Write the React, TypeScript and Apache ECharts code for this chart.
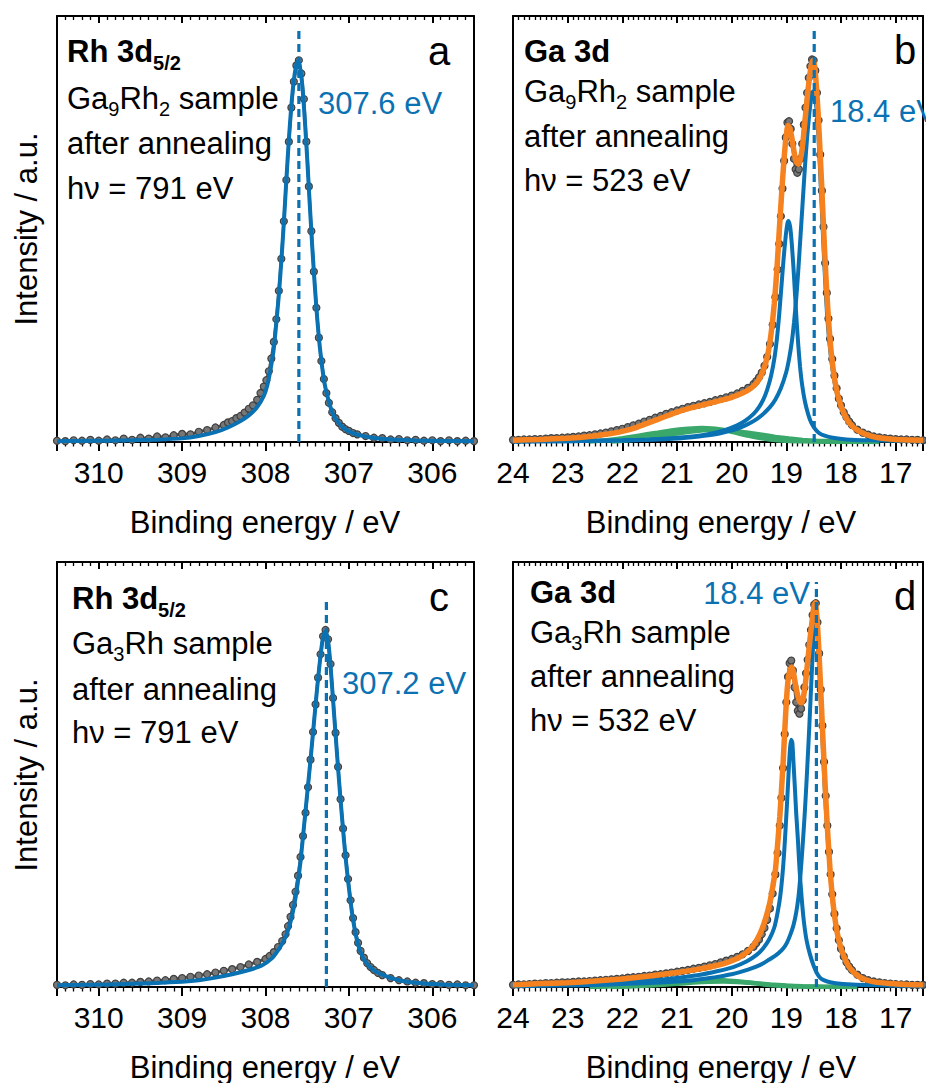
import React, { useEffect, useRef } from 'react';
import * as echarts from 'echarts';

const FONT = '"Liberation Sans", Arial, Helvetica, sans-serif';
const BLUE = '#0a71b3';
const ORANGE = '#f5821f';
const GREEN = '#3aa86a';

// x ranges (binding energy, eV)
const rhRange = [305.5, 310.5];
const gaRange = [16.5, 24];

// ---------- panel a : Rh 3d5/2, Ga9Rh2 ----------
const rhA_data: number[][] = [
  [310.5,0.3],[310.4,0.2],[310.3,0.4],[310.2,0.3],[310.1,0.5],[310.0,0.3],[309.9,0.6],[309.8,0.4],[309.7,0.8],[309.6,0.5],
  [309.5,1.0],[309.4,0.8],[309.3,1.3],[309.2,1.1],[309.1,1.6],[309.0,1.9],[308.9,1.8],[308.8,2.4],[308.7,2.8],[308.6,3.4],
  [308.5,4.0],[308.45,4.6],[308.4,4.9],[308.35,5.6],[308.3,6.1],[308.25,6.9],[308.2,7.8],[308.15,8.6],[308.1,9.9],[308.06,11.5],
  [308.02,13.0],[307.99,14.5],[307.96,16.6],[307.93,19.6],[307.9,23.5],[307.87,28.8],[307.84,35.5],[307.81,43.0],[307.78,51.8],
  [307.75,61.5],[307.72,70.5],[307.69,78.5],[307.66,84.6],[307.63,88.4],[307.6,89.6],[307.57,86.5],[307.54,80.5],[307.51,70.5],
  [307.48,60.0],[307.45,49.5],[307.42,40.0],[307.39,31.5],[307.36,24.5],[307.33,19.0],[307.3,14.8],[307.27,11.5],[307.24,9.2],
  [307.2,7.0],[307.16,5.6],[307.12,4.5],[307.08,3.6],[307.04,3.0],[307.0,2.6],[306.95,2.1],[306.9,1.8],[306.8,1.4],[306.7,1.0],
  [306.6,0.9],[306.5,0.6],[306.4,0.7],[306.3,0.4],[306.2,0.5],[306.1,0.3],[306.0,0.4],[305.9,0.2],[305.8,0.4],[305.7,0.2],
  [305.6,0.3],[305.5,0.2]
];
const rhA_fit: number[][] = [
  [310.5,0.2],[310.2,0.25],[309.9,0.3],[309.6,0.4],[309.3,0.55],[309.0,0.85],[308.8,1.4],[308.6,2.3],[308.45,3.4],[308.3,4.9],
  [308.2,6.2],[308.1,8.2],[308.02,10.8],[307.98,13.2],[307.94,17.0],[307.9,22.0],[307.87,28.0],[307.84,34.5],[307.81,42.5],
  [307.78,51.5],[307.75,61.5],[307.72,71],[307.69,79],[307.66,85],[307.63,88.5],[307.61,89.4],[307.59,88.5],[307.56,84],
  [307.53,76],[307.5,66.5],[307.47,56],[307.44,46],[307.41,37],[307.38,29],[307.35,22.5],[307.32,17.5],[307.29,13.5],
  [307.25,10.2],[307.2,7.0],[307.14,4.9],[307.05,3.1],[306.95,2.1],[306.85,1.5],[306.7,0.95],[306.5,0.6],[306.2,0.35],
  [305.9,0.25],[305.5,0.2]
];

// ---------- panel c : Rh 3d5/2, Ga3Rh ----------
const rhC_data: number[][] = [
  [310.5,0.5],[310.4,0.4],[310.3,0.6],[310.2,0.5],[310.1,0.7],[310.0,0.6],[309.9,0.8],[309.8,0.8],[309.7,1.0],[309.6,1.0],
  [309.5,1.2],[309.4,1.3],[309.3,1.5],[309.2,1.6],[309.1,1.9],[309.0,2.1],[308.9,2.4],[308.8,2.7],[308.7,3.0],[308.6,3.4],
  [308.5,3.8],[308.4,4.2],[308.3,4.7],[308.2,5.3],[308.1,5.9],[308.0,6.6],[307.95,7.3],[307.9,8.2],[307.85,9.4],[307.8,10.8],
  [307.76,12.4],[307.73,14.3],[307.7,16.5],[307.67,19.3],[307.64,22.4],[307.61,26.2],[307.58,30.6],[307.55,35.5],[307.52,41.0],
  [307.49,47.0],[307.46,53.5],[307.43,60.0],[307.4,66.5],[307.37,72.8],[307.34,78.3],[307.31,82.5],[307.28,84.0],[307.25,81.8],
  [307.22,76.0],[307.19,68.0],[307.16,59.8],[307.13,51.8],[307.1,44.2],[307.07,37.3],[307.04,31.0],[307.01,25.4],[306.98,20.4],
  [306.95,16.2],[306.92,12.9],[306.89,10.4],[306.86,8.5],[306.82,6.9],[306.78,5.6],[306.74,4.7],[306.7,4.0],[306.65,3.3],
  [306.6,2.8],[306.5,2.1],[306.4,1.6],[306.3,1.3],[306.2,1.0],[306.1,0.9],[306.0,0.7],[305.9,0.7],[305.8,0.5],[305.7,0.6],
  [305.6,0.4],[305.5,0.4]
];
const rhC_fit: number[][] = [
  [310.5,0.4],[310.2,0.5],[309.9,0.6],[309.6,0.75],[309.3,0.95],[309.0,1.25],[308.8,1.6],[308.6,2.2],[308.4,3.0],[308.2,4.0],
  [308.05,5.0],[307.92,6.8],[307.85,8.6],[307.8,10.2],[307.75,12.2],[307.7,15.3],[307.66,18.8],[307.62,23.5],[307.58,29.5],
  [307.54,37.5],[307.5,45.5],[307.46,53.5],[307.42,62],[307.38,70.5],[307.34,78],[307.31,82.3],[307.28,83.7],[307.25,81.5],
  [307.22,75.5],[307.19,67.5],[307.16,59.5],[307.13,51.5],[307.1,44],[307.07,37],[307.04,30.5],[307.01,25],[306.98,20.0],
  [306.95,15.8],[306.91,11.6],[306.86,8.2],[306.8,5.9],[306.7,3.9],[306.55,2.5],[306.4,1.6],[306.2,1.0],[306.0,0.7],
  [305.8,0.5],[305.5,0.4]
];

// ---------- panel b : Ga 3d, Ga9Rh2 ----------
const gaB_data: number[][] = [
  [24.0,0.5],[23.9,0.5],[23.8,0.6],[23.7,0.6],[23.6,0.7],[23.5,0.7],[23.4,0.8],[23.3,0.9],[23.2,0.9],[23.1,1.0],[23.0,1.1],
  [22.9,1.2],[22.8,1.3],[22.7,1.5],[22.6,1.6],[22.5,1.8],[22.4,2.0],[22.3,2.2],[22.2,2.5],[22.1,2.8],[22.0,3.1],[21.9,3.5],
  [21.8,3.9],[21.7,4.3],[21.6,4.8],[21.5,5.2],[21.4,5.7],[21.3,6.1],[21.2,6.6],[21.1,7.0],[21.0,7.4],[20.9,7.8],[20.8,8.2],
  [20.7,8.5],[20.6,8.8],[20.5,9.1],[20.4,9.4],[20.3,9.8],[20.2,10.1],[20.1,10.5],[20.0,10.9],[19.9,11.4],[19.8,12.0],
  [19.7,12.7],[19.6,13.6],[19.55,14.3],[19.5,15.2],[19.45,16.3],[19.4,17.9],[19.35,20.0],[19.3,23.0],[19.25,27.5],[19.2,34.0],
  [19.16,40.5],[19.13,46.5],[19.1,53.0],[19.07,59.5],[19.04,66.0],[19.01,71.5],[18.98,75.0],[18.95,75.3],[18.92,73.5],
  [18.89,70.0],[18.86,66.5],[18.83,64.0],[18.8,63.2],[18.77,64.0],[18.74,66.5],[18.71,70.0],[18.68,74.5],[18.65,78.5],
  [18.62,82.0],[18.59,85.5],[18.56,88.2],[18.53,89.8],[18.5,89.6],[18.47,87.2],[18.44,82.0],[18.41,75.5],[18.38,67.5],
  [18.35,59.0],[18.32,50.5],[18.29,42.0],[18.26,35.0],[18.23,29.0],[18.2,24.2],[18.16,19.5],[18.12,15.6],[18.08,12.6],
  [18.04,10.2],[18.0,8.6],[17.95,7.0],[17.9,5.8],[17.85,4.8],[17.8,4.0],[17.7,2.9],[17.6,2.2],[17.5,1.7],[17.4,1.3],
  [17.3,1.1],[17.2,0.9],[17.1,0.8],[17.0,0.7],[16.9,0.6],[16.8,0.6],[16.7,0.5],[16.6,0.5],[16.5,0.4]
];
const gaB_env: number[][] = [
  [24,0.4],[23.5,0.6],[23.0,0.9],[22.6,1.3],[22.3,1.8],[22.0,2.5],[21.75,3.4],[21.5,4.6],[21.25,5.8],[21.0,7.0],[20.75,8.0],
  [20.5,8.8],[20.25,9.6],[20.0,10.5],[19.8,11.5],[19.65,12.6],[19.52,14.3],[19.42,16.9],[19.34,20.5],[19.28,25.3],[19.22,32.5],
  [19.17,41],[19.13,49.5],[19.09,57.5],[19.05,65],[19.01,71],[18.97,74.3],[18.94,73.8],[18.9,71.5],[18.86,68.2],[18.82,65.8],
  [18.78,65.2],[18.74,66.5],[18.7,70],[18.66,75.2],[18.62,80.5],[18.58,85.2],[18.54,88.6],[18.51,89.6],[18.48,88],[18.45,83.5],
  [18.42,77.5],[18.39,70],[18.36,62],[18.33,53.5],[18.3,45],[18.27,37.5],[18.24,31],[18.21,25.5],[18.17,20],[18.12,15],
  [18.06,11],[18.0,8.4],[17.9,5.5],[17.8,3.8],[17.7,2.8],[17.55,1.8],[17.4,1.2],[17.2,0.8],[17.0,0.6],[16.5,0.4]
];
const gaB_comp1: number[][] = [
  [24,0.1],[23,0.2],[22,0.35],[21.5,0.5],[21.0,0.8],[20.6,1.3],[20.3,1.8],[20.1,2.4],[19.9,3.1],[19.75,3.9],[19.6,4.9],
  [19.45,6.3],[19.3,8.2],[19.2,10.0],[19.1,12.6],[19.0,16.5],[18.95,19.5],[18.9,23.5],[18.86,28],[18.82,33.5],[18.78,40.5],
  [18.74,48.5],[18.7,56.5],[18.66,64.5],[18.62,71.5],[18.58,77],[18.55,80.3],[18.52,82.3],[18.49,82],[18.46,79.5],[18.43,76],
  [18.4,68.5],[18.37,60],[18.34,51.5],[18.31,43],[18.28,35.5],[18.25,29],[18.21,23],[18.16,17.5],[18.1,12.8],[18.03,9.2],
  [17.95,6.5],[17.85,4.5],[17.75,3.1],[17.6,2.0],[17.4,1.2],[17.1,0.7],[16.5,0.35]
];
const gaB_comp2: number[][] = [
  [24,0.1],[23,0.2],[22,0.4],[21.5,0.6],[21.0,1.0],[20.6,1.5],[20.3,2.2],[20.1,2.9],[19.9,3.9],[19.75,5.0],[19.6,6.6],
  [19.5,8.2],[19.42,10.0],[19.35,12.3],[19.28,15.5],[19.22,19.5],[19.17,24.5],[19.13,30],[19.09,36.5],[19.05,43],[19.01,48.5],
  [18.98,51.3],[18.96,51.9],[18.93,50.5],[18.9,46.5],[18.87,41],[18.84,34.5],[18.81,28],[18.78,22.5],[18.75,17.8],[18.71,13.3],
  [18.66,9.5],[18.6,6.5],[18.54,4.4],[18.47,3.0],[18.4,2.1],[18.3,1.5],[18.15,1.0],[17.9,0.6],[17.5,0.4],[16.5,0.2]
];
const gaB_bg1: number[][] = [
  [22.6,0.1],[22.3,0.4],[22.0,0.9],[21.7,1.5],[21.4,2.1],[21.1,2.7],[20.8,3.1],[20.55,3.3],[20.3,3.1],[20.1,2.7],[19.9,2.1],
  [19.7,1.5],[19.5,1.0],[19.3,0.6],[19.0,0.3],[18.7,0.15],[18.3,0.05],[17.8,0]
];
const gaB_bg2: number[][] = [
  [22.2,0.1],[21.9,0.4],[21.6,0.8],[21.3,1.4],[21.0,2.0],[20.7,2.5],[20.45,2.8],[20.2,2.8],[19.95,2.6],[19.7,2.2],[19.45,1.7],
  [19.2,1.2],[18.95,0.8],[18.7,0.5],[18.45,0.3],[18.1,0.15],[17.7,0.05],[17.3,0]
];

// ---------- panel d : Ga 3d, Ga3Rh ----------
const gaD_data: number[][] = [
  [24.0,0.5],[23.9,0.6],[23.8,0.6],[23.7,0.7],[23.6,0.8],[23.5,0.8],[23.4,0.9],[23.3,0.9],[23.2,1.0],[23.1,1.1],[23.0,1.1],
  [22.9,1.2],[22.8,1.3],[22.7,1.3],[22.6,1.4],[22.5,1.5],[22.4,1.6],[22.3,1.7],[22.2,1.8],[22.1,1.9],[22.0,2.0],[21.9,2.2],
  [21.8,2.3],[21.7,2.4],[21.6,2.6],[21.5,2.7],[21.4,2.9],[21.3,3.0],[21.2,3.2],[21.1,3.4],[21.0,3.6],[20.9,3.8],[20.8,4.0],
  [20.7,4.3],[20.6,4.5],[20.5,4.8],[20.4,5.1],[20.3,5.4],[20.2,5.8],[20.1,6.2],[20.0,6.6],[19.9,7.1],[19.8,7.7],[19.7,8.5],
  [19.6,9.5],[19.55,10.3],[19.5,11.2],[19.45,12.4],[19.4,13.9],[19.35,15.8],[19.3,18.5],[19.25,22.0],[19.2,26.5],[19.16,31.5],
  [19.12,38.0],[19.09,44.5],[19.06,51.5],[19.03,59.5],[19.0,67.0],[18.97,73.0],[18.94,76.2],[18.91,76.8],[18.88,74.5],
  [18.85,70.5],[18.82,67.0],[18.79,65.0],[18.76,64.3],[18.73,65.5],[18.7,67.5],[18.67,70.5],[18.64,73.8],[18.61,77.0],
  [18.58,80.5],[18.55,84.0],[18.52,87.5],[18.49,90.0],[18.46,90.3],[18.43,85.8],[18.4,78.5],[18.37,70.0],[18.34,61.5],
  [18.31,53.0],[18.28,45.0],[18.25,38.0],[18.22,31.8],[18.19,26.5],[18.16,21.8],[18.12,17.2],[18.08,13.8],[18.04,11.0],
  [18.0,9.0],[17.95,7.2],[17.9,5.8],[17.85,4.8],[17.8,4.0],[17.7,2.9],[17.6,2.1],[17.5,1.6],[17.4,1.3],[17.3,1.1],[17.2,0.9],
  [17.1,0.8],[17.0,0.7],[16.9,0.6],[16.8,0.6],[16.7,0.5],[16.6,0.5],[16.5,0.5]
];
const gaD_env: number[][] = [
  [24,0.5],[23.5,0.8],[23.0,1.0],[22.5,1.4],[22.0,1.9],[21.5,2.6],[21.0,3.4],[20.6,4.2],[20.3,5.0],[20.1,5.7],[19.9,6.7],
  [19.75,7.9],[19.62,9.5],[19.52,11.5],[19.44,13.8],[19.37,16.5],[19.3,20],[19.25,23.5],[19.2,27.5],[19.16,33.5],[19.12,40],
  [19.09,46],[19.06,52.5],[19.03,60],[19.0,67],[18.97,72],[18.93,74.8],[18.9,75.3],[18.87,74],[18.83,71],[18.79,68.5],
  [18.75,67],[18.72,66.8],[18.69,68],[18.65,71.5],[18.61,76.5],[18.57,81.5],[18.53,86],[18.5,89.2],[18.47,90.4],[18.44,87],
  [18.41,80.5],[18.38,72.5],[18.35,64],[18.32,55.5],[18.29,47.5],[18.26,40],[18.23,33.5],[18.2,27.5],[18.16,21.5],[18.12,17],
  [18.07,12.8],[18.01,9.6],[17.94,7.0],[17.87,5.1],[17.78,3.6],[17.68,2.5],[17.55,1.7],[17.4,1.2],[17.1,0.8],[16.8,0.6],[16.5,0.5]
];
const gaD_comp1: number[][] = [
  [24,0.2],[23,0.35],[22.37,0.5],[21.8,0.8],[21.41,1.0],[21.0,1.3],[20.69,1.6],[20.4,2.1],[20.21,2.5],[20.0,3.0],[19.85,3.5],
  [19.7,4.1],[19.55,4.8],[19.42,5.6],[19.32,6.4],[19.22,7.2],[19.14,8.0],[19.05,9.2],[18.99,10.4],[18.93,12.2],[18.87,14.5],
  [18.82,17.5],[18.78,21],[18.75,25],[18.72,30],[18.69,35.5],[18.66,41.5],[18.63,48.5],[18.6,56],[18.57,64],[18.54,72.5],
  [18.51,80.5],[18.48,86.5],[18.46,87.2],[18.43,84],[18.4,76],[18.37,67],[18.34,58.5],[18.31,50],[18.28,42.5],[18.25,36.5],
  [18.22,30.5],[18.19,25.5],[18.15,20],[18.1,15],[18.05,11.2],[18.0,8.6],[17.92,6.0],[17.84,4.3],[17.75,3.0],[17.63,2.0],
  [17.45,1.3],[17.2,0.8],[16.9,0.5],[16.5,0.3]
];
const gaD_comp2: number[][] = [
  [24,0.3],[23.0,0.5],[22.37,0.8],[21.77,1.3],[21.17,1.9],[20.57,2.9],[20.27,3.7],[19.97,4.7],[19.73,6.0],[19.55,7.5],
  [19.43,9.0],[19.31,11.3],[19.22,14.0],[19.16,17.5],[19.11,21.5],[19.07,26.5],[19.04,31.6],[19.01,38],[18.98,45],[18.95,52.5],
  [18.93,56.5],[18.91,58.2],[18.89,57.5],[18.87,53],[18.84,46],[18.82,41],[18.79,35],[18.76,28],[18.72,21],[18.68,15.5],
  [18.63,11.0],[18.57,7.8],[18.5,5.0],[18.43,3.0],[18.36,1.9],[18.25,1.3],[18.1,0.9],[17.8,0.6],[17.3,0.4],[16.5,0.2]
];
const gaD_bg1: number[][] = [
  [22.6,0],[22.2,0.15],[21.8,0.4],[21.4,0.8],[21.0,1.2],[20.7,1.5],[20.4,1.65],[20.15,1.6],[19.9,1.35],[19.65,1.0],[19.4,0.6],
  [19.1,0.3],[18.8,0.12],[18.4,0.03],[17.8,0]
];
const gaD_bg2: number[][] = [
  [22.2,0],[21.8,0.15],[21.4,0.4],[21.0,0.75],[20.7,1.05],[20.4,1.25],[20.15,1.3],[19.9,1.2],[19.6,0.95],[19.3,0.6],[19.0,0.35],
  [18.7,0.18],[18.3,0.07],[17.7,0]
];

// peak-position markers: [energy, top of dashed line]
const peakA = [307.6, 96.5];
const peakB = [18.49, 96.5];
const peakC = [307.27, 91];
const peakD = [18.45, 95.3];

const panels = [
  { left: 57, top: 16, width: 417, height: 426, range: rhRange },
  { left: 513, top: 16, width: 417, height: 426, range: gaRange },
  { left: 57, top: 562, width: 417, height: 425, range: rhRange },
  { left: 513, top: 562, width: 417, height: 425, range: gaRange },
];

function buildOption() {
  const black = '#000';
  const grid = panels.map((p) => ({ left: p.left, top: p.top, width: p.width, height: p.height, show: false }));
  const xAxis: any[] = [];
  const yAxis: any[] = [];
  panels.forEach((p, i) => {
    const common = {
      gridIndex: i, type: 'value', min: p.range[0], max: p.range[1], inverse: true,
      minInterval: 1, maxInterval: 1, splitLine: { show: false },
    };
    xAxis.push({
      ...common, position: 'bottom',
      axisLine: { show: true, onZero: false, lineStyle: { color: black, width: 2 } },
      axisTick: { show: true, inside: false, length: 9, lineStyle: { color: black, width: 2 } },
      minorTick: { show: true, splitNumber: 10, length: 4.5, lineStyle: { color: black, width: 1.3 } },
      axisLabel: {
        show: true, margin: 15, fontSize: 30, color: black, fontFamily: FONT,
        formatter: (v: number) => (Math.abs(v - Math.round(v)) < 1e-6 ? String(Math.round(v)) : ''),
      },
    });
    xAxis.push({
      ...common, position: 'top',
      axisLine: { show: true, onZero: false, lineStyle: { color: black, width: 2 } },
      axisTick: { show: true, inside: true, length: 7, lineStyle: { color: black, width: 2 } },
      minorTick: { show: true, splitNumber: 10, length: 4, lineStyle: { color: black, width: 1.3 } },
      axisLabel: { show: false },
    });
    const yc = {
      gridIndex: i, type: 'value', min: 0, max: 100, splitLine: { show: false },
      axisTick: { show: false }, axisLabel: { show: false },
      axisLine: { show: true, onZero: false, lineStyle: { color: black, width: 2 } },
    };
    yAxis.push({ ...yc, position: 'left' });
    yAxis.push({ ...yc, position: 'right' });
  });

  const series: any[] = [];
  const dataS = (i: number, data: number[][]) => series.push({
    type: 'line', xAxisIndex: 2 * i, yAxisIndex: 2 * i, data, symbol: 'circle', symbolSize: 7,
    showSymbol: true, clip: false, silent: true, z: 2,
    itemStyle: { color: '#777', borderColor: '#3f3f3f', borderWidth: 1.2 },
    lineStyle: { color: '#585858', width: 3 },
  });
  const fitS = (i: number, data: number[][], color: string, width: number, z: number) => series.push({
    type: 'line', xAxisIndex: 2 * i, yAxisIndex: 2 * i, data, symbol: 'none', smooth: 0.2,
    silent: true, z, lineStyle: { color, width },
  });
  const dashS = (i: number, pk: number[]) => series.push({
    type: 'line', xAxisIndex: 2 * i, yAxisIndex: 2 * i, data: [[pk[0], 0], [pk[0], pk[1]]], symbol: 'none',
    silent: true, z: 8, lineStyle: { color: BLUE, width: 3.2, type: [8, 5] },
  });

  dataS(0, rhA_data); fitS(0, rhA_fit, BLUE, 4, 4); dashS(0, peakA);
  dataS(1, gaB_data);
  fitS(1, gaB_bg1, GREEN, 4.5, 3); fitS(1, gaB_bg2, GREEN, 4.5, 3);
  fitS(1, gaB_comp1, BLUE, 4, 4); fitS(1, gaB_comp2, BLUE, 4, 4);
  fitS(1, gaB_env, ORANGE, 5.5, 5); dashS(1, peakB);
  dataS(2, rhC_data); fitS(2, rhC_fit, BLUE, 4, 4); dashS(2, peakC);
  dataS(3, gaD_data);
  fitS(3, gaD_bg1, GREEN, 4.5, 3); fitS(3, gaD_bg2, GREEN, 4.5, 3);
  fitS(3, gaD_comp1, BLUE, 4, 4); fitS(3, gaD_comp2, BLUE, 4, 4);
  fitS(3, gaD_env, ORANGE, 5.5, 5); dashS(3, peakD);

  const FS = 31;
  const plain = (x: number, y: number, text: string, extra: any = {}) => ({
    type: 'text', x, y, silent: true, z: 20,
    style: { text, fontSize: FS, fontFamily: FONT, fill: '#000', align: 'left', verticalAlign: 'middle', ...extra },
  });
  const rich = (x: number, y: number, text: string, bold: boolean, subPad: number) => ({
    type: 'text', x, y: y - FS / 2, silent: true, z: 20,
    style: {
      text, align: 'left', verticalAlign: 'top', fontFamily: FONT, fill: '#000',
      rich: {
        m: { fontSize: FS, lineHeight: FS, verticalAlign: 'top', fontFamily: FONT, fill: '#000', fontWeight: bold ? 'bold' : 'normal' },
        s: { fontSize: 20, lineHeight: 20, verticalAlign: 'top', padding: [subPad, 0, 0, 0], fontFamily: FONT, fill: '#000', fontWeight: bold ? 'bold' : 'normal' },
      },
    },
  });
  const letter = (x: number, y: number, t: string) => plain(x, y, t, { fontSize: 40, align: 'center' });

  const graphic: any[] = [
    // panel a
    rich(67, 51, '{m|Rh 3d}{s|5/2}', true, 17),
    rich(67, 98, '{m|Ga}{s|9}{m|Rh}{s|2}{m| sample}', false, 16),
    plain(67, 143, 'after annealing'),
    plain(67, 188, 'hν = 791 eV'),
    letter(439, 51, 'a'),
    plain(318, 103, '307.6 eV', { fill: BLUE }),
    // panel b
    plain(524, 51, 'Ga 3d', { fontWeight: 'bold' }),
    rich(524, 91, '{m|Ga}{s|9}{m|Rh}{s|2}{m| sample}', false, 16),
    plain(524, 136, 'after annealing'),
    plain(524, 180, 'hν = 523 eV'),
    letter(905, 50, 'b'),
    plain(830, 111, '18.4 eV', { fill: BLUE }),
    // panel c
    rich(72, 598, '{m|Rh 3d}{s|5/2}', true, 17),
    rich(72, 643, '{m|Ga}{s|3}{m|Rh sample}', false, 16),
    plain(72, 689, 'after annealing'),
    plain(72, 732, 'hν = 791 eV'),
    letter(439, 597, 'c'),
    plain(342, 683, '307.2 eV', { fill: BLUE }),
    // panel d
    plain(530, 592, 'Ga 3d', { fontWeight: 'bold' }),
    rich(530, 632, '{m|Ga}{s|3}{m|Rh sample}', false, 16),
    plain(530, 676, 'after annealing'),
    plain(530, 720, 'hν = 532 eV'),
    letter(905, 596, 'd'),
    plain(810, 593, '18.4 eV', { fill: BLUE, align: 'right' }),
    // axis titles
    plain(265, 522, 'Binding energy / eV', { align: 'center' }),
    plain(721, 522, 'Binding energy / eV', { align: 'center' }),
    plain(265, 1067, 'Binding energy / eV', { align: 'center' }),
    plain(721, 1067, 'Binding energy / eV', { align: 'center' }),
    { ...plain(26, 229, 'Intensity / a.u.', { align: 'center' }), rotation: Math.PI / 2 },
    { ...plain(26, 775, 'Intensity / a.u.', { align: 'center' }), rotation: Math.PI / 2 },
  ];

  return {
    animation: false,
    backgroundColor: '#fff',
    textStyle: { fontFamily: FONT },
    grid, xAxis, yAxis, series, graphic,
  };
}

export default function App() {
  const ref = useRef<HTMLDivElement>(null);
  useEffect(() => {
    const chart = echarts.init(ref.current!, null, { renderer: 'svg' });
    chart.setOption(buildOption() as any);
    return () => chart.dispose();
  }, []);
  return <div ref={ref} style={{ position: 'absolute', left: 0, top: 0, width: 926, height: 1083 }} />;
}
